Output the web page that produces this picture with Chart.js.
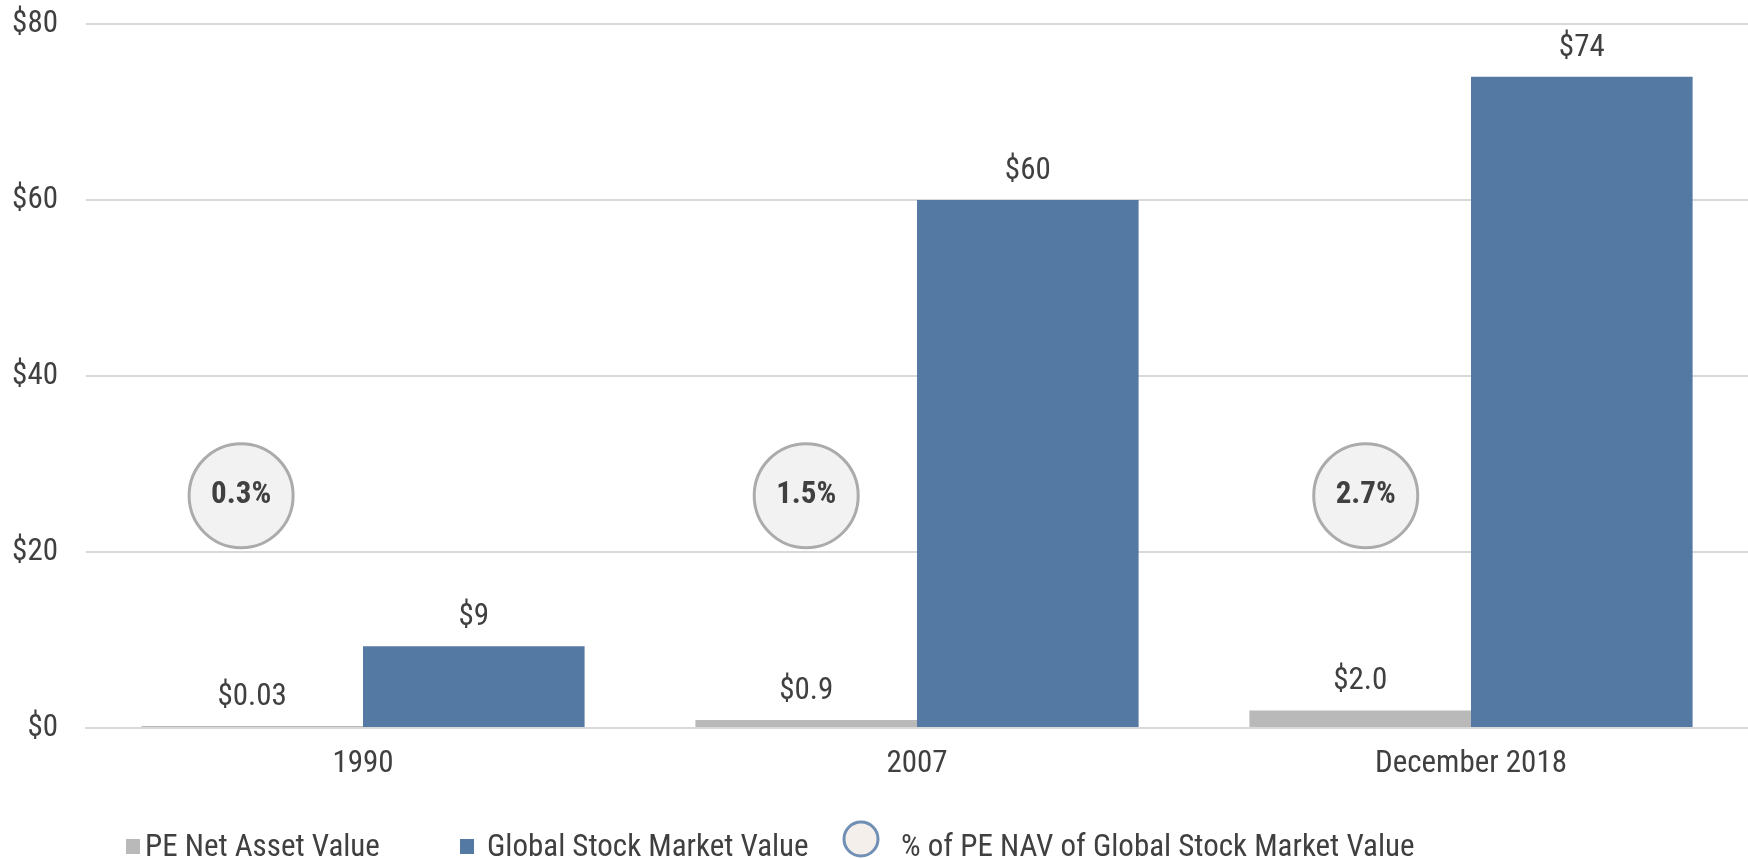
<!DOCTYPE html>
<html>
<head>
<meta charset="utf-8">
<script src="https://cdn.jsdelivr.net/npm/chart.js@4/dist/chart.umd.min.js"></script>
<style>
  html, body { margin: 0; padding: 0; background: #ffffff; }
  #wrap { width: 1748px; height: 859px; position: relative; }
</style>
</head>
<body>
<div id="wrap"><canvas id="c" width="1748" height="859"></canvas></div>
<script>
// Categories and values
const categories = ['1990', '2007', 'December 2018'];
const peNav = [0.03, 0.9, 2.0];
const globalStock = [9.3, 60, 74];
const peNavLabels = ['$0.03', '$0.9', '$2.0'];
const globalStockLabels = ['$9', '$60', '$74'];
// % of PE NAV bubbles: position in category units (index of category + offset) and height on value axis
const pctLabels = ['0.3%', '1.5%', '2.7%'];
const pctX = [-0.22, 0.80, 1.81];
const pctY = [26.4, 26.4, 26.4];
const yTicks = [0, 20, 40, 60, 80];
const legendNames = ['PE Net Asset Value', 'Global Stock Market Value', '% of PE NAV of Global Stock Market Value'];

const FONT = "'Liberation Sans Narrow', 'Arial Narrow', 'Roboto Condensed', 'Liberation Sans', sans-serif";
const TEXT = '#404040';
const GREY = '#b8b9b8';
const BLUE = '#5479a3';

const labelPlugin = {
  id: 'labelPlugin',
  afterDatasetsDraw(chart) {
    const ctx = chart.ctx;
    ctx.save();
    ctx.font = '31px ' + FONT;
    ctx.textAlign = 'center';
    ctx.textBaseline = 'middle';
    const sets = [[0, peNavLabels], [1, globalStockLabels]];
    sets.forEach(([di, labs]) => {
      const meta = chart.getDatasetMeta(di);
      meta.data.forEach((el, i) => {
        const t = labs[i];
        const y = el.y - 29;
        const w = ctx.measureText(t).width;
        ctx.fillStyle = '#ffffff';
        ctx.fillRect(el.x - w / 2 - 8, y - 20, w + 16, 40);
        ctx.fillStyle = TEXT;
        ctx.fillText(t, el.x, y);
      });
    });
    const pm = chart.getDatasetMeta(2);
    ctx.font = 'bold 31px ' + FONT;
    pm.data.forEach((el, i) => {
      ctx.fillStyle = TEXT;
      ctx.fillText(pctLabels[i], el.x, el.y);
    });
    ctx.restore();
  },
  afterDraw(chart) {
    const ctx = chart.ctx;
    ctx.save();
    ctx.font = '31px ' + FONT;
    ctx.textAlign = 'left';
    ctx.textBaseline = 'middle';
    const ly = 848;
    ctx.fillStyle = GREY;
    ctx.fillRect(126, 839, 14, 15);
    ctx.fillStyle = TEXT;
    ctx.fillText(legendNames[0], 145, ly);
    ctx.fillStyle = BLUE;
    ctx.fillRect(460, 839, 14, 15);
    ctx.fillStyle = TEXT;
    ctx.fillText(legendNames[1], 487, ly);
    ctx.beginPath();
    ctx.arc(861, 839, 17, 0, Math.PI * 2);
    ctx.fillStyle = '#f5efeb';
    ctx.fill();
    ctx.lineWidth = 3;
    ctx.strokeStyle = '#6f8fb5';
    ctx.stroke();
    ctx.fillStyle = TEXT;
    ctx.fillText(legendNames[2], 901, ly);
    ctx.restore();
  }
};

new Chart(document.getElementById('c'), {
  type: 'bar',
  data: {
    datasets: [
      { label: legendNames[0], data: peNav.map((v, i) => ({ x: i, y: v })), backgroundColor: GREY,
        categoryPercentage: 0.8, barPercentage: 1.0, minBarLength: 2, order: 2 },
      { label: legendNames[1], data: globalStock.map((v, i) => ({ x: i, y: v })), backgroundColor: BLUE,
        categoryPercentage: 0.8, barPercentage: 1.0, order: 2 },
      { type: 'scatter', label: legendNames[2],
        data: pctX.map((x, i) => ({ x: x, y: pctY[i] })),
        pointRadius: 52, pointHoverRadius: 52, backgroundColor: '#f2f2f2', borderColor: '#ababab', borderWidth: 3, order: 1 }
    ]
  },
  options: {
    responsive: false,
    animation: false,
    events: [],
    layout: { autoPadding: false, padding: { top: 24, right: 0, left: 0, bottom: 0 } },
    plugins: { legend: { display: false }, tooltip: { enabled: false } },
    scales: {
      x: {
        type: 'linear',
        offset: false,
        min: -0.5, max: categories.length - 0.5,
        afterBuildTicks(s) { s.ticks = categories.map((c, i) => ({ value: i })); },
        grid: { display: false, offset: false },
        border: { display: true, color: '#d9d9d9', width: 2 },
        ticks: { color: TEXT, font: { family: FONT, size: 31 }, padding: 10, autoSkip: false, maxRotation: 0,
                 callback: v => categories[v] },
        afterFit(s) { s.height = 131; s.paddingLeft = 0; s.paddingRight = 0; }
      },
      y: {
        min: 0, max: 80,
        afterBuildTicks(s) { s.ticks = yTicks.map(v => ({ value: v })); },
        grid: { color: '#d9d9d9', lineWidth: 2, drawTicks: false },
        border: { display: false },
        ticks: { color: TEXT, font: { family: FONT, size: 31 }, padding: 28, callback: v => '$' + v },
        afterFit(s) { s.width = 86; s.paddingTop = 0; s.paddingBottom = 0; }
      }
    }
  },
  plugins: [labelPlugin]
});
</script>
</body>
</html>
